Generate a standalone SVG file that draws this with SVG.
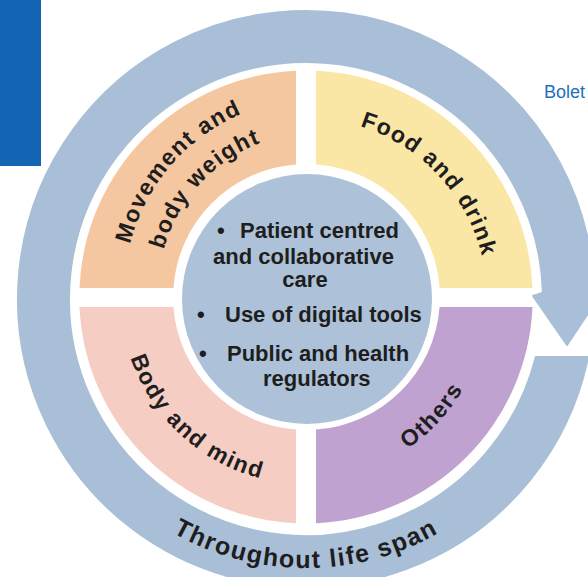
<svg xmlns="http://www.w3.org/2000/svg" width="588" height="577" viewBox="0 0 588 577">
  <style>
    .lbl { font-family: "Liberation Sans", Arial, sans-serif; font-weight: 700; fill: #1e1e1e; }
    .arc-lbl { font-size: 23px; letter-spacing: 1.5px; }
    .core { font-size: 22px; }
  </style>
  <defs>
    <!-- baseline paths for curved labels -->
    <path id="p-span" d="M 73.04 433.5 A 269 269 0 0 0 538.96 433.5"/>
    <path id="p-food" d="M 312.32 118.11 A 181 181 0 0 1 486.89 305.32"/>
    <path id="p-move1" d="M 124.55 306.55 A 194 194 0 0 1 303.45 98.55"/>
    <path id="p-move2" d="M 158.18 299.54 A 160 160 0 0 1 310.46 132.18"/>
    <path id="p-body" d="M 121.14 306.26 A 185 185 0 0 0 313.26 483.86"/>
    <path id="p-others" d="M 313.11 479.86 A 181 181 0 0 0 486.86 291.89"/>
  </defs>

  <rect width="588" height="577" fill="#ffffff"/>

  <!-- page furniture -->
  <rect x="0" y="0" width="41" height="166" fill="#1565b5"/>
  <text x="544" y="98" font-family="'Liberation Sans', Arial, sans-serif" font-size="18" fill="#1f6fc0">Bolet</text>

  <!-- outer cycle: ring closing on itself with an arrowhead -->
  <g id="connectors">
    <path id="lifespan-cycle" d="M 535.8 357 L 588.1 357 A 288 288 0 1 1 593.9 291.46 L 603 291 L 567 345 L 533 296 L 542.92 292.8 A 237 237 0 1 0 535.8 357 Z"
          fill="#a9bfd7" stroke="#a9bfd7" stroke-width="2" stroke-linejoin="round"/>
  </g>
  <g id="lifespan-label">
    <text class="lbl" font-size="25" letter-spacing="1.5"><textPath href="#p-span" startOffset="50%" text-anchor="middle">Throughout life span</textPath></text>
  </g>

  <!-- four domains -->
  <g id="movement">
    <path d="M 79.5 288 A 226.5 226.5 0 0 1 296 70.7 L 296 164.4 A 133 133 0 0 0 173.4 288 Z" fill="#f5c7a0"/>
    <text class="lbl arc-lbl" letter-spacing="2.5"><textPath href="#p-move1" startOffset="50%" text-anchor="middle">Movement and</textPath></text>
    <text class="lbl arc-lbl" letter-spacing="1.6"><textPath href="#p-move2" startOffset="50%" text-anchor="middle">body weight</textPath></text>
  </g>
  <g id="food">
    <path d="M 316 70.7 A 226.5 226.5 0 0 1 532.5 288 L 439.6 288 A 133 133 0 0 0 316 164.4 Z" fill="#fae7a6"/>
    <text class="lbl arc-lbl"><textPath href="#p-food" startOffset="50%" text-anchor="middle">Food and drink</textPath></text>
  </g>
  <g id="body-mind">
    <path d="M 79.5 307 A 226.5 226.5 0 0 0 296 523.3 L 296 429.6 A 133 133 0 0 1 173.4 307 Z" fill="#f6cdc2"/>
    <text class="lbl arc-lbl"><textPath href="#p-body" startOffset="50%" text-anchor="middle">Body and mind</textPath></text>
  </g>
  <g id="others">
    <path d="M 316 523.3 A 226.5 226.5 0 0 0 532.5 307 L 439.6 307 A 133 133 0 0 1 316 429.6 Z" fill="#bfa2cf"/>
    <text class="lbl arc-lbl" letter-spacing="2"><textPath href="#p-others" startOffset="50%" text-anchor="middle">Others</textPath></text>
  </g>

  <!-- core principles -->
  <g id="core">
    <circle cx="307" cy="299" r="125" fill="#adc2d9"/>
    <text class="lbl core" x="217" y="238">•<tspan x="240">Patient centred</tspan></text>
    <text class="lbl core" x="213" y="264">and collaborative</text>
    <text class="lbl core" x="305" y="287" text-anchor="middle">care</text>
    <text class="lbl core" x="197" y="322">•<tspan x="225">Use of digital tools</tspan></text>
    <text class="lbl core" x="199" y="361">•<tspan x="227">Public and health</tspan></text>
    <text class="lbl core" x="263" y="386">regulators</text>
  </g>
</svg>
